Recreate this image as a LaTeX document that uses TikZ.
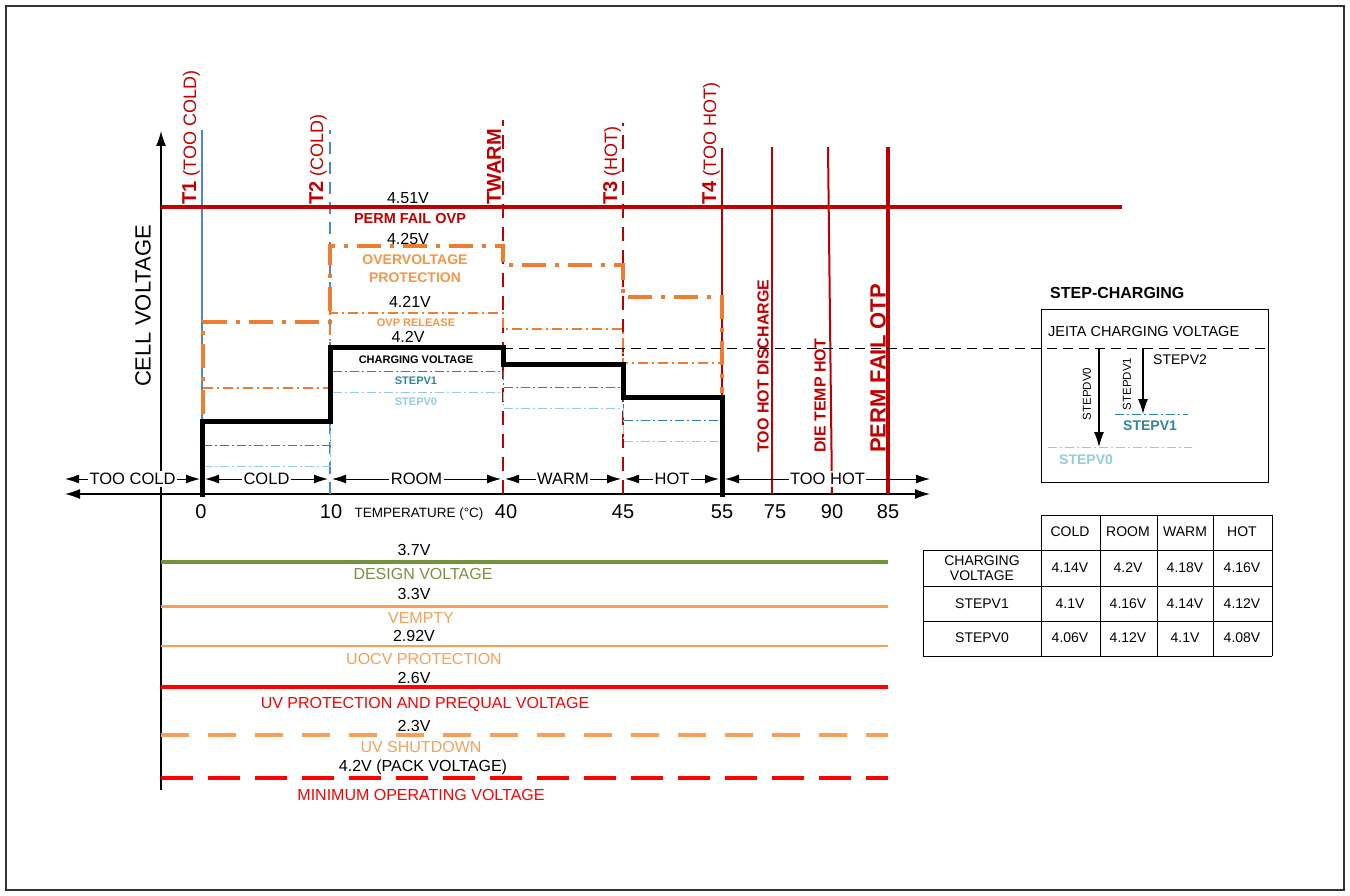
\documentclass[tikz,border=0pt]{standalone}
\usepackage{fontspec}
\setmainfont{Liberation Sans}
\usetikzlibrary{arrows.meta,positioning}
\definecolor{permred}{RGB}{192,0,0}
\definecolor{tblue}{RGB}{74,134,218}
\definecolor{ovporange}{RGB}{237,125,49}
\definecolor{ovptext}{RGB}{247,150,70}
\definecolor{v1teal}{RGB}{49,133,155}
\definecolor{v0blue}{RGB}{146,205,220}
\definecolor{dsgreen}{RGB}{118,146,60}
\definecolor{emptyorange}{RGB}{247,160,90}
\definecolor{uvred}{RGB}{255,0,0}
\newcommand{\tbold}{\fontsize{20}{20}\selectfont\bfseries}
\newcommand{\px}[1]{\fontsize{#1}{#1}\selectfont}
\begin{document}
\begin{tikzpicture}[x=1pt,y=-1pt,
		every node/.style={inner sep=0pt},
		tip/.style={-{Latex[length=15pt,width=10pt]}},
		band/.style={{Latex[length=14pt,width=9pt]}-{Latex[length=14pt,width=9pt]},line width=1pt},
		bandlbl/.style={fill=white,inner xsep=1.5pt,inner ysep=2pt,font=\px{16.5}},
		tlabel/.style={rotate=90,anchor=south west,text=permred,font=\px{18}},
		zonelbl/.style={rotate=90,anchor=south west,text=permred,font=\px{16}\bfseries},
		volt/.style={font=\px{16}},
		tag/.style={font=\px{11}\bfseries},
		ovpline/.style={ovporange,line width=4.5pt,dash pattern=on 24pt off 9pt on 4pt off 9pt},
		relline/.style={ovporange,line width=1.5pt,dash pattern=on 10pt off 4pt on 2pt off 4pt},
		v1line/.style={v1teal,line width=1pt,dash pattern=on 9pt off 3pt on 2pt off 3pt},
		v0line/.style={v0blue,line width=1pt,dash pattern=on 9pt off 3pt on 2pt off 3pt},
		tdash/.style={line width=2pt,dash pattern=on 14pt off 9pt},
		cell/.style={font=\fontsize{14}{15}\selectfont,align=center}
	]
	\useasboundingbox (0,0) rectangle (1350,896);
	\draw[line width=1.5pt,black!80] (6,6) rectangle (1344,890);

	% axes
	\coordinate (yaxb) at (161,790);
	\coordinate (yaxt) at (161,131);
	\coordinate (xaxl) at (65,494);
	\coordinate (xaxr) at (930,494);
	\draw[tip,line width=1.2pt] (yaxb) -- (yaxt);
	\draw[{Latex[length=15pt,width=10pt]}-{Latex[length=15pt,width=10pt]},line width=1.2pt] (xaxl) -- (xaxr);
	\node[rotate=90,font=\px{22}] (ylbl) at (143,306) {CELL VOLTAGE};

	% temperature thresholds
	\coordinate (p0) at (202,494);
	\coordinate (p10) at (330,494);
	\coordinate (p40) at (503,494);
	\coordinate (p45) at (623,494);
	\coordinate (p55) at (722,494);
	\coordinate (p75) at (772,494);
	\coordinate (p90) at (832,494);
	\coordinate (p85) at (888,494);
	\draw[tblue,line width=2pt] (p0) -- ++(0,-364);
	\draw[tblue,line width=2pt,dash pattern=on 12pt off 8pt] (p10) -- ++(0,-364);
	\draw[permred,tdash] (p40) -- ++(0,-374);
	\draw[permred,tdash] (p45) -- ++(0,-371);
	\draw[permred,line width=2pt] (p55) -- ++(0,-346);
	\draw[permred,line width=2pt] (p75) -- ++(0,-347);
	\draw[permred,line width=2pt] (p90) -- (828,147);
	\draw[permred,line width=4pt] (p85) -- ++(0,-347);

	% voltage steps
	\draw[permred,line width=4pt] (161,207) -- (1122,207);
	\draw[ovpline] (203,460) |- (330,322) |- (503,246) |- (623,265) |- (722,297) -- (722,393);
	\draw[relline] (203,388) -| (330,313) -| (503,329) -| (623,363) -- (722,363);
	\draw[v1line] (203,445) -| (330,371) -| (503,387) -| (623,420) -- (722,420);
	\draw[v0line] (203,466) -| (330,392) -| (503,408) -| (623,441) -- (722,441);
	\draw[line width=5pt] (202,497) |- (330,421) |- (503,347) |- (623,364) |- (722,397) -- (722,497);

	\node[volt] (v451) at (408,198) {4.51V};
	\node[font=\px{14.5}\bfseries,text=permred] (pfovp) at (410,219) {PERM FAIL OVP};
	\node[volt] (v425) at (408,239) {4.25V};
	\node[font=\fontsize{14}{18}\selectfont\bfseries,text=ovptext,align=center] (ovpname) at (415,269) {OVERVOLTAGE\\PROTECTION};
	\node[volt] (v421) at (410,302) {4.21V};
	\node[tag,text=ovptext] (relname) at (416,323) {OVP RELEASE};
	\node[volt] (v42) at (408,337) {4.2V};
	\node[tag] (chgname) at (416,360) {CHARGING VOLTAGE};
	\node[tag,text=v1teal] (v1name) at (416,381) {STEPV1};
	\node[tag,text=v0blue] (v0name) at (416,402) {STEPV0};

	% bands
	\draw[band] (65,479) -- node[bandlbl] (zTooCold) {TOO COLD} (200,479);
	\draw[band] (205,479) -- node[bandlbl] (zCold) {COLD} (328,479);
	\draw[band] (332,479) -- node[bandlbl] (zRoom) {ROOM} (501,479);
	\draw[band] (505,479) -- node[bandlbl] (zWarm) {WARM} (621,479);
	\draw[band] (625,479) -- node[bandlbl] (zHot) {HOT} (719,479);
	\draw[band] (725,479) -- node[bandlbl] (zTooHot) {TOO HOT} (930,479);

	\foreach \x/\t in {201/0,331/10,506/40,623/45,722/55,775/75,832/90,888/85}
		\node[font=\px{20}] (tk\t) at (\x,512) {\t};
	\node[font=\px{13.5}] (templbl) at (419,514) {TEMPERATURE (°C)};

	\node[tlabel] (lT1) at (200,205) {{\tbold T1} (TOO COLD)};
	\node[tlabel] (lT2) at (327,205) {{\tbold T2} (COLD)};
	\node[tlabel] (lTW) at (501,205) {\tbold TWARM};
	\node[tlabel] (lT3) at (621,205) {{\tbold T3} (HOT)};
	\node[tlabel] (lT4) at (720,205) {{\tbold T4} (TOO HOT)};
	\node[zonelbl] (lDis) at (769,453) {TOO HOT DISCHARGE};
	\node[zonelbl] (lDie) at (826,453) {DIE TEMP HOT};
	\node[zonelbl,font=\px{22}\bfseries] (lOtp) at (886,453) {PERM FAIL OTP};

	% lower limits
	\draw[dsgreen,line width=4pt] (161,562) -- (888,562);
	\node[volt] (v37) at (414,550) {3.7V};
	\node[volt,text=dsgreen] (dsname) at (423,574) {DESIGN VOLTAGE};
	\draw[emptyorange,line width=3pt] (161,606) -- (888,606);
	\node[volt] (v33) at (414,594) {3.3V};
	\node[volt,text=emptyorange] (vemname) at (421,618) {VEMPTY};
	\draw[emptyorange,line width=2.5pt] (161,646) -- (888,646);
	\node[volt] (v292) at (414,636) {2.92V};
	\node[volt,text=emptyorange] (uocvname) at (424,659) {UOCV PROTECTION};
	\draw[uvred,line width=3.5pt] (161,687) -- (888,687);
	\node[volt] (v26) at (414,678) {2.6V};
	\node[volt,text=uvred] (uvpname) at (425,704) {UV PROTECTION AND PREQUAL VOLTAGE};
	\draw[emptyorange,line width=4pt,dash pattern=on 28pt off 19pt] (161,735) -- (888,735);
	\node[volt] (v23) at (414,726) {2.3V};
	\node[volt,text=emptyorange] (uvsname) at (421,747) {UV SHUTDOWN};
	\draw[uvred,line width=4.5pt,dash pattern=on 32pt off 15pt] (161,778) -- (888,778);
	\node[volt] (vpack) at (423,767) {4.2V (PACK VOLTAGE)};
	\node[volt,text=uvred] (minname) at (421,795) {MINIMUM OPERATING VOLTAGE};

	% step-charging inset
	\node[anchor=west,font=\px{16}\bfseries] (scTitle) at (1050,293) {STEP-CHARGING};
	\draw[line width=1pt] (1041,309) rectangle (1268,482);
	\node[anchor=west,font=\px{14.5}] (jeita) at (1048,332) {JEITA CHARGING VOLTAGE};
	\coordinate (jeitaL) at (503,348);
	\coordinate (jeitaR) at (1268,348);
	\draw[line width=1pt,dash pattern=on 10pt off 6pt] (jeitaL) -- (jeitaR);
	\coordinate (sv1a) at (1115,414);
	\coordinate (sv1b) at (1188,414);
	\coordinate (sv0a) at (1048,447);
	\coordinate (sv0b) at (1192,447);
	\draw[v1line] (sv1a) -- (sv1b);
	\draw[v0line] (sv0a) -- (sv0b);
	\coordinate (dv0) at (1099,348);
	\coordinate (dv1) at (1143,348);
	\draw[tip,line width=1.2pt] (dv0) -- (dv0 |- sv0a);
	\draw[tip,line width=1.2pt] (dv1) -- (dv1 |- sv1a);
	\node[rotate=90,font=\px{11.5}] (ldv0) at (1087,394) {STEPDV0};
	\node[rotate=90,font=\px{11.5}] (ldv1) at (1127,384) {STEPDV1};
	\node[anchor=west,font=\px{14}] (lsv2) at (1153,360) {STEPV2};
	\node[anchor=west,font=\px{14}\bfseries,text=v1teal] (lsv1) at (1123,426) {STEPV1};
	\node[anchor=west,font=\px{14}\bfseries,text=v0blue] (lsv0) at (1059,460) {STEPV0};

	% table
	\draw[line width=1pt] (1041,515) -- (1272,515);
	\foreach \y in {550,586,621,656}
		\draw[line width=1pt] (923,\y) -- (1272,\y);
	\foreach \x in {1041,1100,1157,1213,1272}
		\draw[line width=1pt] (\x,515) -- (\x,656);
	\draw[line width=1pt] (923,550) -- (923,656);
	\foreach \x/\t in {1070/COLD,1128/ROOM,1185/WARM,1242/HOT}
		\node[cell] (h\t) at (\x,532) {\t};
	\node[cell] (rChg) at (982,568) {CHARGING\\VOLTAGE};
	\node[cell] (rV1) at (982,604) {STEPV1};
	\node[cell] (rV0) at (982,638) {STEPV0};
	\foreach \x/\a/\b/\c [count=\i] in {1070/4.14V/4.1V/4.06V,1128/4.2V/4.16V/4.12V,1185/4.18V/4.14V/4.1V,1242/4.16V/4.12V/4.08V}{
		\node[cell] (ca\i) at (\x,568) {\a};
		\node[cell] (cb\i) at (\x,604) {\b};
		\node[cell] (cc\i) at (\x,638) {\c};
	}
\end{tikzpicture}
\end{document}
